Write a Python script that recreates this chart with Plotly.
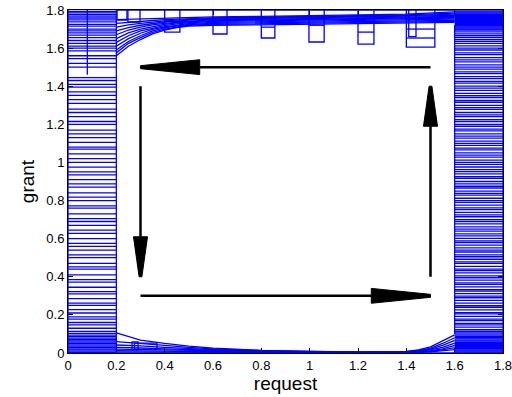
import plotly.graph_objects as go

# ---------------- data ----------------
x_tick_vals = [0, 0.2, 0.4, 0.6, 0.8, 1.0, 1.2, 1.4, 1.6, 1.8]
x_tick_text = ["0", "0.2", "0.4", "0.6", "0.8", "1", "1.2", "1.4", "1.6", "1.8"]
y_tick_vals = [0, 0.2, 0.4, 0.6, 0.8, 1.0, 1.2, 1.4, 1.6, 1.8]
y_tick_text = ["0", "0.2", "0.4", "0.6", "0.8", "1", "1.2", "1.4", "1.6", "1.8"]

left_band_x = [0.0, 0.2]
left_band_y = [0.003, 0.01, 0.016, 0.022, 0.03, 0.036, 0.043, 0.05, 0.057, 0.064, 0.07,
               0.078, 0.086, 0.094, 0.103, 0.114, 0.13, 0.148, 0.16, 0.178, 0.19, 0.21,
               0.228, 0.25, 0.262, 0.285, 0.31, 0.322, 0.345, 0.372, 0.385, 0.41, 0.44,
               0.452, 0.47, 0.5, 0.515, 0.54, 0.56, 0.575, 0.6, 0.628, 0.645, 0.67, 0.69,
               0.705, 0.73, 0.76, 0.772, 0.8, 0.818, 0.84, 0.87, 0.888, 0.91, 0.935, 0.95,
               0.975, 1.0, 1.02, 1.045, 1.07, 1.08, 1.105, 1.13, 1.15, 1.17, 1.2, 1.215,
               1.24, 1.262, 1.28, 1.31, 1.33, 1.352, 1.37, 1.395, 1.41, 1.43, 1.445, 1.5,
               1.52, 1.545, 1.56, 1.585, 1.6, 1.61, 1.625, 1.64, 1.655, 1.668, 1.68, 1.69,
               1.7, 1.715, 1.725, 1.738, 1.748, 1.758, 1.768, 1.776, 1.785, 1.792]
left_divider_x = 0.08
left_divider_y = [1.46, 1.8]

right_band_x = [1.6, 1.8]
right_band_y = [0.0, 0.005, 0.01, 0.015, 0.02, 0.025, 0.03, 0.035, 0.04, 0.045, 0.05,
                0.056, 0.062, 0.068, 0.074, 0.08, 0.088, 0.095, 0.105, 0.113, 0.122,
                0.136, 0.148, 0.155, 0.17, 0.178, 0.192, 0.205, 0.212, 0.226, 0.24,
                0.248, 0.262, 0.276, 0.29, 0.298, 0.312, 0.325, 0.332, 0.347, 0.36,
                0.368, 0.382, 0.395, 0.405, 0.42, 0.432, 0.44, 0.455, 0.47, 0.478, 0.492,
                0.505, 0.515, 0.53, 0.54, 0.552, 0.566, 0.58, 0.588, 0.602, 0.615, 0.625,
                0.64, 0.65, 0.662, 0.678, 0.69, 0.7, 0.715, 0.725, 0.738, 0.752, 0.762,
                0.776, 0.79, 0.8, 0.812, 0.828, 0.838, 0.85, 0.866, 0.875, 0.888, 0.9,
                0.916, 0.925, 0.94, 0.952, 0.962, 0.976, 0.99, 1.0, 1.012, 1.028, 1.038,
                1.05, 1.066, 1.075, 1.09, 1.1, 1.112, 1.128, 1.138, 1.15, 1.166, 1.175,
                1.19, 1.2, 1.215, 1.225, 1.24, 1.25, 1.262, 1.278, 1.288, 1.3, 1.316,
                1.325, 1.34, 1.35, 1.362, 1.378, 1.39, 1.4, 1.416, 1.425, 1.44, 1.45,
                1.466, 1.475, 1.49, 1.5, 1.512, 1.528, 1.538, 1.55, 1.566, 1.575, 1.59,
                1.6, 1.612, 1.625, 1.635, 1.645, 1.655, 1.665, 1.675, 1.685, 1.695, 1.7,
                1.705, 1.71, 1.715, 1.72, 1.725, 1.73, 1.735, 1.74, 1.745, 1.75, 1.755,
                1.76, 1.765, 1.77, 1.775, 1.78, 1.785, 1.79, 1.795]

top_x = [0.2, 0.25, 0.3, 0.35, 0.4, 0.45, 0.5, 0.6, 0.8, 1.0, 1.2, 1.4, 1.6]
top_curves = [
    [1.56, 1.61, 1.645, 1.675, 1.695, 1.708, 1.715, 1.72, 1.722, 1.725, 1.728, 1.73, 1.735],
    [1.575, 1.625, 1.655, 1.683, 1.70, 1.712, 1.72, 1.725, 1.728, 1.73, 1.733, 1.737, 1.74],
    [1.59, 1.635, 1.665, 1.69, 1.706, 1.716, 1.724, 1.73, 1.733, 1.736, 1.738, 1.742, 1.746],
    [1.61, 1.65, 1.678, 1.698, 1.712, 1.722, 1.729, 1.735, 1.738, 1.741, 1.744, 1.748, 1.752],
    [1.63, 1.665, 1.69, 1.706, 1.718, 1.727, 1.733, 1.74, 1.743, 1.746, 1.749, 1.752, 1.757],
    [1.65, 1.68, 1.70, 1.714, 1.724, 1.732, 1.738, 1.744, 1.748, 1.751, 1.754, 1.757, 1.762],
    [1.67, 1.695, 1.71, 1.722, 1.73, 1.737, 1.742, 1.748, 1.752, 1.755, 1.758, 1.762, 1.767],
    [1.69, 1.708, 1.72, 1.73, 1.737, 1.742, 1.747, 1.752, 1.756, 1.759, 1.762, 1.766, 1.772],
    [1.71, 1.722, 1.73, 1.737, 1.743, 1.747, 1.751, 1.756, 1.76, 1.763, 1.766, 1.77, 1.778],
    [1.73, 1.736, 1.741, 1.745, 1.749, 1.752, 1.755, 1.759, 1.763, 1.766, 1.77, 1.774, 1.784],
    [1.75, 1.752, 1.755, 1.757, 1.759, 1.761, 1.762, 1.764, 1.767, 1.77, 1.774, 1.778, 1.79],
]
top_boxes = [  # x_left, x_right, y_bottom (boxes hang from the top edge)
    (0.203, 0.244, 1.747), (0.248, 0.298, 1.737), (0.40, 0.463, 1.684),
    (0.60, 0.658, 1.674), (0.80, 0.856, 1.653), (0.997, 1.06, 1.632),
    (1.20, 1.266, 1.621), (1.40, 1.518, 1.605), (1.41, 1.44, 1.66),
]
top_box_top = 1.8
top_box_inner = [  # x_left, x_right, y
    (0.40, 0.463, 1.74), (0.80, 0.856, 1.71), (0.997, 1.06, 1.72),
    (1.20, 1.266, 1.684), (1.40, 1.518, 1.653), (1.40, 1.518, 1.70),
]

bottom_x = [0.2, 0.25, 0.3, 0.4, 0.5, 0.6, 0.8, 1.0, 1.2, 1.4, 1.45, 1.5, 1.55, 1.6]
bottom_curves = [
    [0.105, 0.085, 0.068, 0.05, 0.036, 0.026, 0.014, 0.008, 0.006, 0.008, 0.016, 0.032, 0.062, 0.095],
    [0.06, 0.054, 0.05, 0.04, 0.03, 0.022, 0.012, 0.007, 0.005, 0.007, 0.013, 0.026, 0.05, 0.08],
    [0.042, 0.04, 0.037, 0.03, 0.024, 0.018, 0.01, 0.006, 0.004, 0.006, 0.011, 0.021, 0.04, 0.066],
    [0.03, 0.029, 0.027, 0.022, 0.018, 0.014, 0.008, 0.005, 0.003, 0.005, 0.009, 0.016, 0.03, 0.052],
    [0.02, 0.019, 0.018, 0.015, 0.012, 0.01, 0.006, 0.004, 0.003, 0.004, 0.007, 0.012, 0.022, 0.04],
    [0.012, 0.012, 0.011, 0.01, 0.008, 0.007, 0.004, 0.003, 0.002, 0.003, 0.005, 0.009, 0.016, 0.028],
    [0.006, 0.006, 0.006, 0.005, 0.005, 0.004, 0.003, 0.002, 0.001, 0.002, 0.003, 0.006, 0.01, 0.018],
]
bottom_boxes = [  # x_left, x_right, y_bottom, y_top
    (0.265, 0.29, 0.016, 0.058), (0.275, 0.368, 0.02, 0.052),
]

# arrows: x_start, y_start, x_end (tip), y_end (tip)
arrows = [
    (1.5, 1.5, 0.3, 1.5),
    (0.3, 1.4, 0.3, 0.4),
    (0.3, 0.3, 1.5, 0.3),
    (1.5, 0.4, 1.5, 1.4),
]

# ---------------- styling ----------------
BLUE = "#0000ff"
FONT = "Liberation Sans, Arial, sans-serif"
HEAD_LEN_H, HEAD_HALF_H = 0.245, 0.039   # horizontal arrows (len in x, half-width in y)
HEAD_LEN_V, HEAD_HALF_V = 0.21, 0.029    # vertical arrows (len in y, half-width in x)
TIP_FRAC = 0.2

# ---------------- build blue segments ----------------
bx, by = [], []


def seg(xs, ys):
    bx.extend(list(xs) + [None])
    by.extend(list(ys) + [None])


for y in left_band_y:
    seg(left_band_x, [y, y])
seg([left_band_x[0], left_band_x[0]], [0, 1.8])
seg([left_band_x[1], left_band_x[1]], [0, 1.8])
seg([left_divider_x, left_divider_x], left_divider_y)

for y in right_band_y:
    seg(right_band_x, [y, y])
seg([right_band_x[0], right_band_x[0]], [0.1, 1.72])
seg([right_band_x[1], right_band_x[1]], [0, 1.8])

for row in top_curves:
    seg(top_x, row)
for x0, x1, yb in top_boxes:
    seg([x0, x0, x1, x1], [top_box_top, yb, yb, top_box_top])
for x0, x1, y in top_box_inner:
    seg([x0, x1], [y, y])
seg([left_band_x[1], right_band_x[0]], [top_box_top, top_box_top])

for row in bottom_curves:
    seg(bottom_x, row)
for x0, x1, y0, y1 in bottom_boxes:
    seg([x0, x0, x1, x1, x0], [y0, y1, y1, y0, y0])
seg([left_band_x[1], right_band_x[0]], [0, 0])

fig = go.Figure()
fig.add_trace(go.Scatter(x=bx, y=by, mode="lines",
                         line=dict(color=BLUE, width=1.3),
                         hoverinfo="skip", showlegend=False))

# ---------------- arrows ----------------
for xs, ys, xe, ye in arrows:
    if ys == ye:
        d = 1 if xe > xs else -1
        base = xe - d * HEAD_LEN_H
        fig.add_trace(go.Scatter(x=[xs, base], y=[ys, ye], mode="lines",
                                 line=dict(color="black", width=2.5),
                                 hoverinfo="skip", showlegend=False))
        px = [base, xe, xe, base, base]
        py = [ye + HEAD_HALF_H, ye + HEAD_HALF_H * TIP_FRAC,
              ye - HEAD_HALF_H * TIP_FRAC, ye - HEAD_HALF_H, ye + HEAD_HALF_H]
    else:
        d = 1 if ye > ys else -1
        base = ye - d * HEAD_LEN_V
        fig.add_trace(go.Scatter(x=[xs, xe], y=[ys, base], mode="lines",
                                 line=dict(color="black", width=2.5),
                                 hoverinfo="skip", showlegend=False))
        px = [xe - HEAD_HALF_V, xe - HEAD_HALF_V * TIP_FRAC,
              xe + HEAD_HALF_V * TIP_FRAC, xe + HEAD_HALF_V, xe - HEAD_HALF_V]
        py = [base, ye, ye, base, base]
    fig.add_trace(go.Scatter(x=px, y=py, mode="lines", fill="toself",
                             fillcolor="black", line=dict(color="black", width=1),
                             hoverinfo="skip", showlegend=False))

axis_common = dict(
    showline=True, linecolor="black", linewidth=1, mirror="allticks",
    ticks="inside", ticklen=5, tickcolor="black", showgrid=False,
    zeroline=False, tickfont=dict(family=FONT, size=13, color="black"),
    layer="below traces", ticklabeloverflow="allow",
)
fig.update_xaxes(range=[0, 1.8], tickvals=x_tick_vals, ticktext=x_tick_text,
                 title=dict(text="request", font=dict(family=FONT, size=19, color="black"),
                            standoff=2),
                 **axis_common)
fig.update_yaxes(range=[0, 1.8], tickvals=y_tick_vals, ticktext=y_tick_text,
                 title=dict(text="grant", font=dict(family=FONT, size=19, color="black"),
                            standoff=6),
                 **axis_common)
fig.update_layout(
    width=512, height=397,
    margin=dict(l=68, r=9, t=10, b=44, autoexpand=False),
    plot_bgcolor="white", paper_bgcolor="white",
    showlegend=False,
)
fig.write_html("out.html", config={"displayModeBar": False},
               post_script="document.body.style.margin='0';document.body.style.overflow='hidden';")
